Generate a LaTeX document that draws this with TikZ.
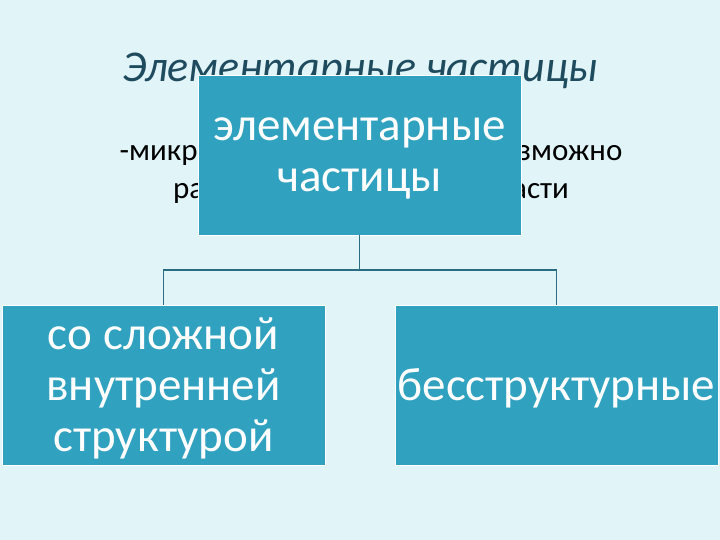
\documentclass[tikz,border=0pt]{standalone}
\usepackage{fontspec}
\setmainfont{Carlito}
\usetikzlibrary{positioning, calc}
\definecolor{pgback}{HTML}{E1F5F9}
\definecolor{pgteal}{HTML}{30A2BF}
\definecolor{pgline}{HTML}{2A6C84}
\definecolor{pgtitle}{HTML}{1F4B5E}

\begin{document}
\begin{tikzpicture}[
  x=1pt, y=-1pt,
  unit/.style={rectangle, draw=white, line width=0.6pt, fill=pgteal, minimum width=323pt, minimum height=160pt, align=center, text=white, font=\fontsize{47}{51}\selectfont, inner sep=0pt, text depth=0pt},
  link/.style={draw=pgline, line width=1.6pt},
]
\fill[pgback] (0,0) rectangle (720,540);

% Slide text behind the chart
\node[font=\fontsize{44}{52}\selectfont\itshape, text=pgtitle] (title) at (360,71) {Элементарные частицы};
\node[font=\fontsize{31}{38}\selectfont, align=center] (def) at (371,175) {-микрочастицы, которые невозможно\\разделить на составные части};

% Chart boxes
\node[unit] (root) at (359.5,155) {элементарные\\частицы};
\node[unit] (kid1) at (163.5,385) {со сложной\\внутренней\\структурой};
\node[unit] (kid2) at (556.5,385) {бесструктурные};

% Connectors
\coordinate (split) at (359.5,270);
\draw[link] (root.south) -- (split) -| (kid1.north);
\draw[link] (split) -| (kid2.north);

\end{tikzpicture}
\end{document}
